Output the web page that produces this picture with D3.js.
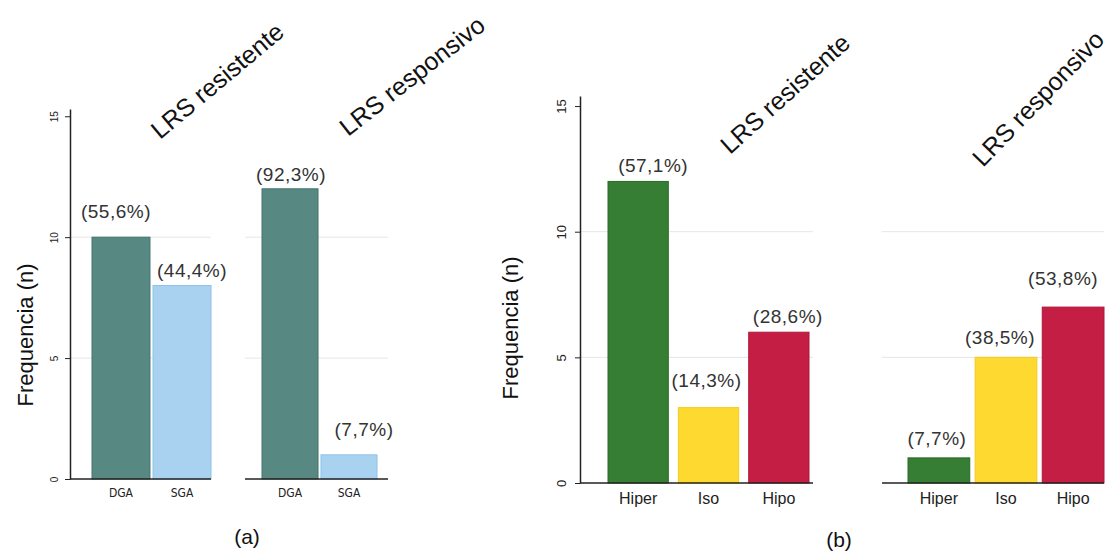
<!DOCTYPE html>
<html>
<head>
<meta charset="utf-8">
<script src="https://cdn.jsdelivr.net/npm/d3@7"></script>
<style>
  html, body { margin: 0; padding: 0; background: #fff; }
  svg { display: block; }
</style>
</head>
<body>
<svg id="chart" width="1116" height="554"></svg>
<script>
// ---- data -------------------------------------------------------------
const groups = ["LRS resistente", "LRS responsivo"];
const yTickValues = [0, 5, 10, 15];
const yTitle = "Frequencia (n)";

// (a) gestational-age classification
const catsA = ["DGA", "SGA"];
const countsA = [[10, 8], [12, 1]];
const pctA = [["(55,6%)", "(44,4%)"], ["(92,3%)", "(7,7%)"]];

// (b) hiper / iso / hipo
const catsB = ["Hiper", "Iso", "Hipo"];
const countsB = [[12, 3, 6], [1, 5, 7]];
const pctB = [["(57,1%)", "(14,3%)", "(28,6%)"], ["(7,7%)", "(38,5%)", "(53,8%)"]];

// ---- layout & style ---------------------------------------------------
const FONT = '"Liberation Sans", Arial, sans-serif';
const svg = d3.select("#chart");

const colorsA = { DGA: "#578882", SGA: "#a8d2f0" };
const strokesA = { DGA: "#447670", SGA: "#8cc2e8" };
const colorsB = { Hiper: "#367e33", Iso: "#fed92f", Hipo: "#c51e45" };
const strokesB = { Hiper: "#2a6a28", Iso: "#f3cc20", Hipo: "#b0163a" };

const panels = [
  {
    cats: catsA, counts: countsA, pct: pctA,
    colors: colorsA, strokes: strokesA,
    yDomainTop: 15.3, yRange: [479, 109],
    axisX: 70,
    spans: [[70, 211], [245, 388]],
    bands: [[92, 211], [262, 377]],
    paddingInner: 0.05,
    tickFont: 10, tickOffset: -12.5,
    catFont: '"Liberation Sans Narrow", "DejaVu Sans Condensed", Arial, sans-serif',
    catSize: 12, catY: 497,
    titleX: 25, titleY: 335,
    groupTitles: [{ x: 160, y: 140, a: -40 }, { x: 348, y: 137, a: -38 }],
    // label nudges: [dx, gap above bar top]
    nudges: [[[-5, 19], [10, 9]], [[1, 8], [15, 19]]],
    tag: "(a)", tagX: 247, tagY: 544
  },
  {
    cats: catsB, counts: countsB, pct: pctB,
    colors: colorsB, strokes: strokesB,
    yDomainTop: 15.4, yRange: [483, 96],
    axisX: 580,
    spans: [[580, 813], [882, 1104]],
    bands: [[608, 809], [908, 1104]],
    paddingInner: [0.143, 0.08],
    tickFont: 13, tickOffset: -14.5,
    catFont: FONT,
    catSize: 16, catY: 504,
    titleX: 510, titleY: 328,
    groupTitles: [{ x: 730, y: 155, a: -42 }, { x: 983, y: 168, a: -46 }],
    nudges: [[[15, 9], [-2, 21], [9, 9]], [[-2, 13], [-6, 13], [-10, 22]]],
    tag: "(b)", tagX: 839, tagY: 547
  }
];

panels.forEach(p => {
  const g = svg.append("g");
  const y = d3.scaleLinear().domain([0, p.yDomainTop]).range(p.yRange);

  groups.forEach((grp, gi) => {
    const [x0, x1] = p.spans[gi];
    const pi = Array.isArray(p.paddingInner) ? p.paddingInner[gi] : p.paddingInner;
    const x = d3.scaleBand().domain(p.cats).range(p.bands[gi]).paddingInner(pi).paddingOuter(0);

    // horizontal grid lines
    g.append("g").selectAll("line")
      .data(yTickValues.filter(v => v > 0 && v < 15))
      .join("line")
      .attr("x1", x0).attr("x2", x1)
      .attr("y1", d => y(d)).attr("y2", d => y(d))
      .attr("stroke", "#e6e6e6").attr("stroke-width", 1);

    // bars
    const rows = p.cats.map((c, i) => ({ cat: c, n: p.counts[gi][i], label: p.pct[gi][i], nudge: p.nudges[gi][i] }));
    g.append("g").selectAll("rect")
      .data(rows)
      .join("rect")
      .attr("x", d => x(d.cat))
      .attr("y", d => y(d.n))
      .attr("width", x.bandwidth())
      .attr("height", d => y(0) - y(d.n))
      .attr("fill", d => p.colors[d.cat])
      .attr("stroke", d => p.strokes[d.cat])
      .attr("stroke-width", 1);

    // percentage labels above bars
    g.append("g").selectAll("text")
      .data(rows)
      .join("text")
      .attr("x", d => x(d.cat) + x.bandwidth() / 2 + d.nudge[0])
      .attr("y", d => y(d.n) - d.nudge[1])
      .attr("text-anchor", "middle")
      .attr("font-family", FONT)
      .attr("font-size", 19)
      .attr("letter-spacing", 0.5)
      .attr("fill", "#333")
      .text(d => d.label);

    // baseline
    g.append("line")
      .attr("x1", x0).attr("x2", x1)
      .attr("y1", y(0)).attr("y2", y(0))
      .attr("stroke", "#222").attr("stroke-width", 1.5);

    // category labels
    g.append("g").selectAll("text")
      .data(p.cats)
      .join("text")
      .attr("x", d => x(d) + x.bandwidth() / 2)
      .attr("y", p.catY)
      .attr("text-anchor", "middle")
      .attr("font-family", p.catFont)
      .attr("font-size", p.catSize)
      .attr("fill", "#222")
      .text(d => d);

    // group title, slanted
    const t = p.groupTitles[gi];
    g.append("text")
      .attr("transform", `translate(${t.x},${t.y}) rotate(${t.a})`)
      .attr("font-family", FONT)
      .attr("font-size", 25)
      .attr("fill", "#111")
      .text(grp);
  });

  // y axis
  const axis = d3.axisLeft(y).tickValues(yTickValues).tickSize(5).tickSizeOuter(0);
  const ax = g.append("g")
    .attr("transform", `translate(${p.axisX},0)`)
    .call(axis);
  ax.select(".domain").attr("stroke", "#222").attr("stroke-width", 1.5);
  ax.selectAll(".tick line").attr("stroke", "#222");
  ax.selectAll(".tick text")
    .attr("transform", "rotate(-90)")
    .attr("x", 0).attr("y", p.tickOffset).attr("dy", 0)
    .attr("text-anchor", "middle")
    .attr("font-family", FONT)
    .attr("font-size", p.tickFont)
    .attr("fill", "#222");

  // y title
  g.append("text")
    .attr("transform", `translate(${p.titleX},${p.titleY}) rotate(-90)`)
    .attr("text-anchor", "middle")
    .attr("dy", "0.35em")
    .attr("font-family", FONT)
    .attr("font-size", 22)
    .attr("fill", "#111")
    .text(yTitle);

  // panel tag
  g.append("text")
    .attr("x", p.tagX).attr("y", p.tagY)
    .attr("text-anchor", "middle")
    .attr("font-family", FONT)
    .attr("font-size", 21)
    .attr("fill", "#111")
    .text(p.tag);
});
</script>
</body>
</html>
